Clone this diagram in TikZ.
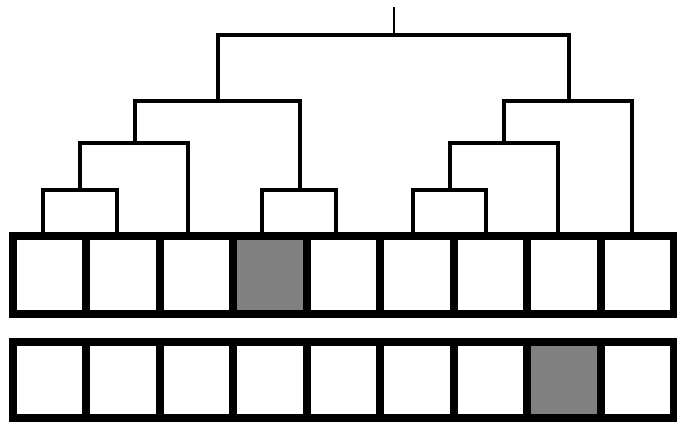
\documentclass[tikz,border=0pt]{standalone}
\begin{document}
\begin{tikzpicture}[x=1pt, y=-1pt,
        cell/.style={draw, line width=8pt, minimum width=73.44pt, inner sep=0pt},
        link/.style={draw, line width=3.6pt}]
    \useasboundingbox (0,0) rectangle (677,422);
    \foreach \n/\x in {1/43,2/117,3/188,4/262,5/336,6/413,7/486,8/558,9/632}
        \coordinate (l\n) at (\x,232);
    \coordinate (m12) at (80,190);
    \coordinate (m123) at (135,143);
    \coordinate (m45) at (300,190);
    \coordinate (mL) at (218,101);
    \coordinate (m67) at (450,190);
    \coordinate (m678) at (504,143);
    \coordinate (mR) at (569,101);
    \coordinate (root) at (394,35);
    \coordinate (top) at (394,7);
    \draw[link] (l1) |- (m12) -| (l2);
    \draw[link] (m12) |- (m123) -| (l3);
    \draw[link] (l4) |- (m45) -| (l5);
    \draw[link] (m123) |- (mL) -| (m45);
    \draw[link] (l6) |- (m67) -| (l7);
    \draw[link] (m67) |- (m678) -| (l8);
    \draw[link] (m678) |- (mR) -| (l9);
    \draw[link] (mL) |- (root) -| (mR);
    \draw[link, line width=2.6pt] (root) -- (top);
    \foreach \i/\fa/\fb in {1/white/white,2/white/white,3/white/white,4/gray/white,5/white/white,
                           6/white/white,7/white/white,8/white/gray,9/white/white} {
        \node[cell, fill=\fa, minimum height=78pt] (a\i) at (13+73.44*\i-36.72, 275) {};
        \node[cell, fill=\fb, minimum height=76pt] (b\i) at (13+73.44*\i-36.72, 380) {};
    }
\end{tikzpicture}
\end{document}
